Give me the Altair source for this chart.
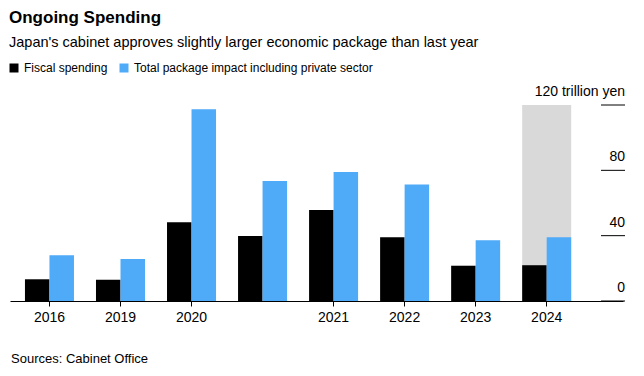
import altair as alt
import pandas as pd

# ---- data ----
packages = ["2016", "2019", "2020", "2020 (Dec)", "2021", "2022", "2023", "2024"]
tick_labels = ["2016", "2019", "2020", "", "2021", "2022", "2023", "2024"]
fiscal = [13.3, 13.0, 48.2, 39.8, 55.7, 39.0, 21.6, 21.9]
total = [28.0, 25.7, 117.4, 73.5, 79.0, 71.4, 37.2, 39.0]
series = ["Fiscal spending", "Total package impact including private sector"]
colors = ["#000000", "#4faaf8"]
highlight_package = ["2024"]
highlight_value = [120]
y_ticks = [0, 40, 80, 120]
y_tick_labels = ["0", "40", "80", "120 trillion yen"]
source_text = ["Sources: Cabinet Office"]

FONT = "Liberation Sans"

rows = []
for p, f, t in zip(packages, fiscal, total):
    rows.append({"package": p, "series": series[0], "value": f})
    rows.append({"package": p, "series": series[1], "value": t})
bars_df = pd.DataFrame(rows)
hl_df = pd.DataFrame({"package": highlight_package, "value": highlight_value})
ticks_df = pd.DataFrame({"v": y_ticks, "label": y_tick_labels})
src_df = pd.DataFrame({"text": source_text})

pk_js = "[" + ",".join("'%s'" % p for p in packages) + "]"
lb_js = "[" + ",".join("'%s'" % l for l in tick_labels) + "]"
label_expr = f"{lb_js}[indexof({pk_js}, datum.value)]"

x_scale = alt.Scale(domain=packages, paddingInner=0.31, paddingOuter=0.47, align=0.224)
y_scale = alt.Scale(domain=[0, 120], nice=False)

x_enc = alt.X(
    "package:N",
    sort=packages,
    scale=x_scale,
    title=None,
    axis=alt.Axis(
        labelExpr=label_expr,
        labelAngle=0,
        labelFontSize=14,
        labelFont=FONT,
        labelColor="#000000",
        labelPadding=4,
        domainColor="#000000",
        domainWidth=1,
        tickColor="#000000",
        tickSize=5,
        tickOpacity={"condition": {"test": "datum.value === '2020 (Dec)'", "value": 0}, "value": 1},
        grid=False,
    ),
)

highlight = alt.Chart(hl_df).mark_bar(color="#d9d9d9").encode(
    x=x_enc,
    y=alt.Y("value:Q", scale=y_scale, axis=None),
)

bars = alt.Chart(bars_df).mark_bar().encode(
    x=x_enc,
    xOffset=alt.XOffset("series:N", sort=series),
    y=alt.Y("value:Q", scale=y_scale, axis=None),
    color=alt.Color(
        "series:N",
        sort=series,
        scale=alt.Scale(domain=series, range=colors),
        legend=alt.Legend(
            title=None,
            orient="none",
            legendX=-2,
            legendY=-43,
            direction="horizontal",
            symbolType="square",
            symbolSize=81,
            symbolStrokeWidth=0,
            labelFontSize=12,
            labelFont=FONT,
            labelColor="#000000",
            labelOffset=4,
            labelLimit=0,
            columnPadding=10,
        ),
    ),
)

grid = alt.Chart(ticks_df).mark_rule(color="#000000", strokeWidth=1).encode(
    y=alt.Y("v:Q", scale=y_scale, axis=None),
    x=alt.value(591),
    x2=alt.value(615),
)

ylabels = alt.Chart(ticks_df).mark_text(
    align="right", baseline="alphabetic", dy=-9, fontSize=14, font=FONT, color="#000000"
).encode(
    y=alt.Y("v:Q", scale=y_scale, axis=None),
    x=alt.value(615),
    text="label:N",
)

source = alt.Chart(src_df).mark_text(
    align="left", baseline="alphabetic", fontSize=13, font=FONT, color="#000000"
).encode(
    x=alt.value(1),
    y=alt.value(258),
    text="text:N",
)

chart = alt.layer(highlight, bars, grid, ylabels, source).properties(
    width=613,
    height=196,
    autosize=alt.AutoSizeParams(type="none"),
    padding={"left": 2, "top": 97, "right": 13, "bottom": 67},
    title=alt.Title(
        "Ongoing Spending",
        subtitle="Japan's cabinet approves slightly larger economic package than last year",
        anchor="start",
        frame="group",
        font=FONT,
        fontSize=17,
        fontWeight="bold",
        color="#000000",
        subtitleFont=FONT,
        subtitleFontSize=14.5,
        subtitleColor="#000000",
        subtitlePadding=9,
        offset=12,
        dx=-1,
    ),
).configure_view(stroke=None)

chart.save("out.html", embed_options={"renderer": "svg", "actions": False})
